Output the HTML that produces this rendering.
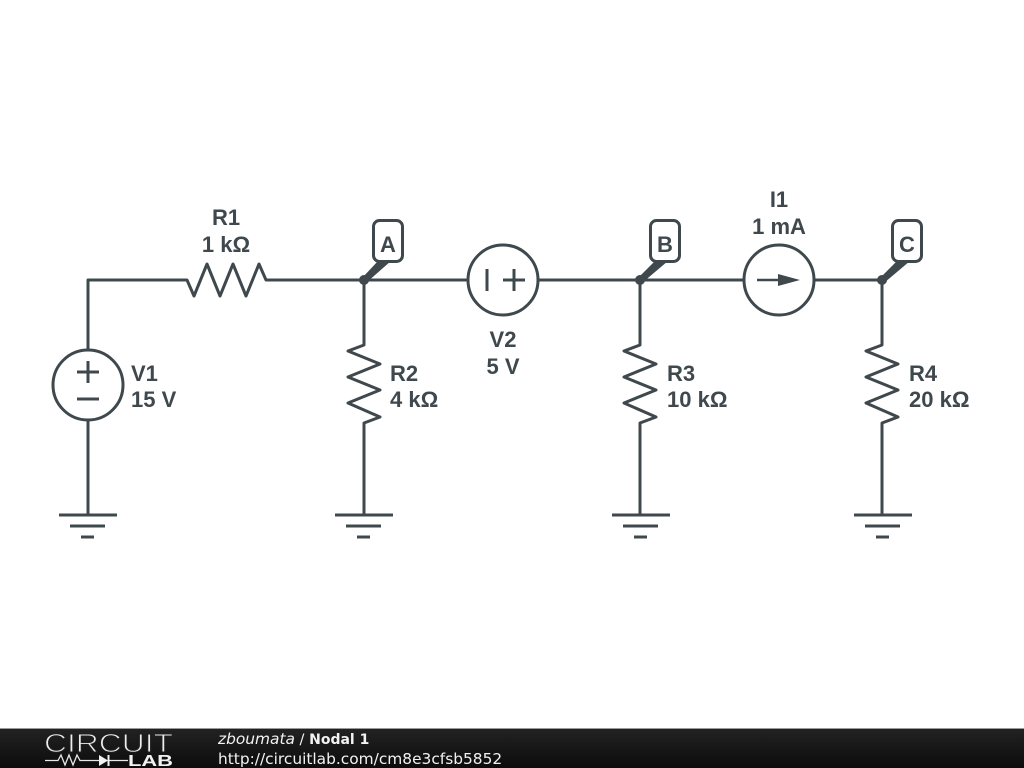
<!DOCTYPE html>
<html><head><meta charset="utf-8"><style>
html,body{margin:0;padding:0;background:#fff}
svg{display:block}
.l{font-family:"Liberation Sans",sans-serif;font-weight:bold;font-size:22px;fill:#3f484d}
.f{font-family:"DejaVu Sans",sans-serif;fill:#f2f2f2}
</style></head><body>
<svg width="1024" height="768" viewBox="0 0 1024 768" xmlns="http://www.w3.org/2000/svg">
<defs><linearGradient id="g" x1="0" y1="0" x2="0" y2="1"><stop offset="0" stop-color="#222222"/><stop offset="1" stop-color="#0c0c0c"/></linearGradient></defs>
<rect width="1024" height="768" fill="#fff"/>
<g fill="none" stroke="#3f484d" stroke-width="3" stroke-linejoin="round">
<path d="M88 350V280H187L194 296L207 264L220 296L233 264L246 296L259 264L266 280H468"/>
<path d="M538 280H744M814 280H882"/>
<path d="M88 420V515"/>
<circle cx="88" cy="385" r="35"/>
<path d="M77 372H99M88 361V383M77 399H99"/>
<circle cx="503" cy="280" r="35"/>
<path d="M487 269V291M503 280H525M514 269V291"/>
<circle cx="779" cy="280" r="35"/>
<path d="M757 280H782" stroke-width="2.500"/>
<path d="M364 280V345L348 351L380 364L348 377L380 390L348 403L380 417L364 423V515"/>
<path d="M640 280V345L624 351L656 364L624 377L656 390L624 403L656 417L640 423V515"/>
<path d="M882 280V345L866 351L898 364L866 377L898 390L866 403L898 417L882 423V515"/>
<path d="M59 515H117M70 526H105M81 537H94"/>
<path d="M335 515H393M346 526H381M357 537H370"/>
<path d="M612 515H670M623 526H658M634 537H647"/>
<path d="M854 515H912M865 526H900M876 537H889"/>
<rect x="373.500" y="220.500" width="29" height="41" rx="6"/>
<rect x="650.500" y="220.500" width="29" height="41" rx="6"/>
<rect x="892.500" y="220.500" width="29" height="41" rx="6"/>
</g>
<g fill="#3f484d">
<path d="M778 274L800 280L778 286Z"/>
<circle cx="364" cy="280" r="5"/><path d="M363 277L378 261H391L366 283Z"/>
<circle cx="640" cy="280" r="5"/><path d="M639 277L655 261H668L642 283Z"/>
<circle cx="882" cy="280" r="5"/><path d="M881 277L897 261H910L884 283Z"/>
</g>
<text x="226" y="225" text-anchor="middle" class="l">R1</text>
<text x="226" y="252" text-anchor="middle" class="l">1 kΩ</text>
<text x="388" y="252" text-anchor="middle" class="l">A</text>
<text x="665" y="252" text-anchor="middle" class="l">B</text>
<text x="907" y="252" text-anchor="middle" class="l">C</text>
<text x="503" y="347" text-anchor="middle" class="l">V2</text>
<text x="503" y="374" text-anchor="middle" class="l">5 V</text>
<text x="779" y="207" text-anchor="middle" class="l">I1</text>
<text x="779" y="234" text-anchor="middle" class="l">1 mA</text>
<text x="131" y="381" class="l">V1</text>
<text x="131" y="407" class="l">15 V</text>
<text x="390" y="381" class="l">R2</text>
<text x="390" y="407" class="l">4 kΩ</text>
<text x="667" y="381" class="l">R3</text>
<text x="667" y="407" class="l">10 kΩ</text>
<text x="909" y="381" class="l">R4</text>
<text x="909" y="407" class="l">20 kΩ</text>
<rect x="0" y="728" width="1024" height="1" fill="#9a9a9a"/>
<rect x="0" y="729" width="1024" height="39" fill="url(#g)"/>
<text x="44" y="752" font-family="Liberation Sans,sans-serif" font-size="26" fill="#eeeeee" stroke="#1f1f1f" stroke-width="1" textLength="129" lengthAdjust="spacingAndGlyphs">CIRCUIT</text>
<path d="M45 760.500H58L61 755L65 765L69 755L73 765L77 755L80 760.500H99M128 760.500H108" fill="none" stroke="#e8e8e8" stroke-width="1.300"/>
<path d="M99 755L108 760.500L99 766Z" fill="#f2f2f2"/><path d="M108.500 755V766" stroke="#f2f2f2" stroke-width="2"/>
<text x="128" y="766" font-family="Liberation Sans,sans-serif" font-weight="bold" font-size="16" fill="#f2f2f2" textLength="45" lengthAdjust="spacingAndGlyphs">LAB</text>
<text x="218" y="744" class="f" font-size="14.600"><tspan font-style="italic" font-size="15.400">zboumata</tspan> / <tspan font-weight="bold" font-size="14">Nodal 1</tspan></text>
<text x="218" y="764" class="f" font-size="15.400">http://circuitlab.com/cm8e3cfsb5852</text>
</svg>
</body></html>
